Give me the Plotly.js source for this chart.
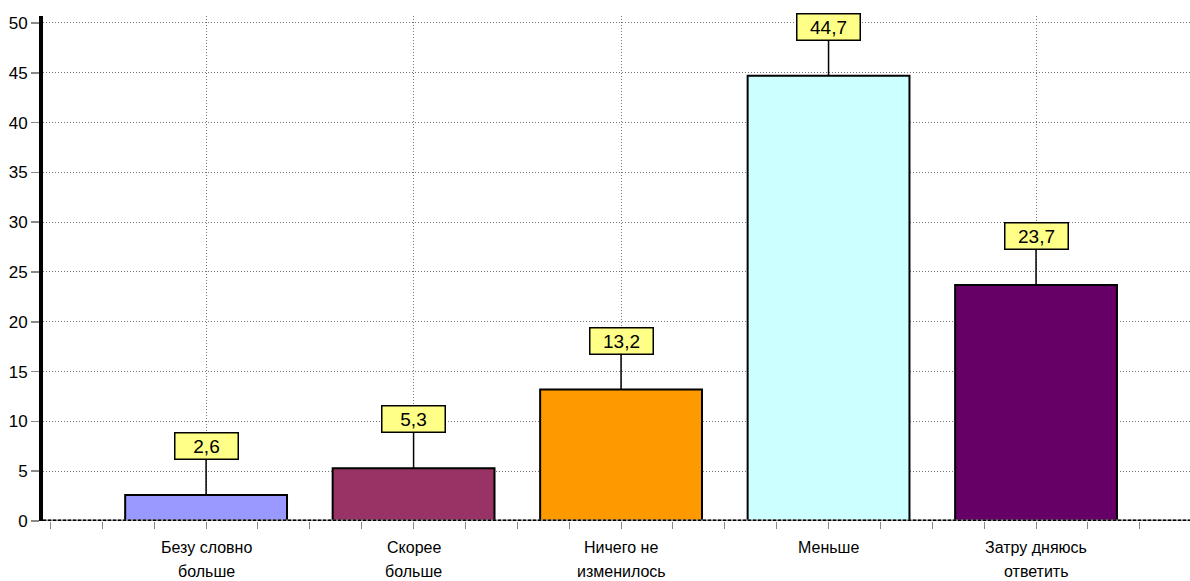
<!DOCTYPE html>
<html>
<head>
<meta charset="utf-8">
<script src="https://cdn.plot.ly/plotly-3.0.1.min.js"></script>
<style>
  html, body { margin: 0; padding: 0; background: #fff; }
  #chart { width: 1190px; height: 581px; }
</style>
</head>
<body>
<div id="chart"></div>
<script>
// Survey answers and their shares, %
const categories = ["Безу словно<br>больше", "Скорее<br>больше", "Ничего не<br>изменилось", "Меньше", "Затру дняюсь<br>ответить"];
const values = [2.6, 5.3, 13.2, 44.7, 23.7];
const valueLabels = ["2,6", "5,3", "13,2", "44,7", "23,7"];
const barColors = ["#9999FF", "#993366", "#FF9900", "#CCFFFF", "#660066"];
const yTicks = [0, 5, 10, 15, 20, 25, 30, 35, 40, 45, 50];

const positions = categories.map((_, i) => i);
const font = "Liberation Sans, Arial, sans-serif";

const trace = {
  type: "bar",
  x: positions,
  y: values,
  width: 0.78,
  marker: { color: barColors, line: { color: "#000", width: 2 } },
  hoverinfo: "skip",
  cliponaxis: false
};

// Yellow value callouts joined to the bar tops
const valueNotes = values.map((v, i) => ({
  x: positions[i], y: v, xref: "x", yref: "y",
  text: valueLabels[i],
  showarrow: true, arrowhead: 0, arrowwidth: 1.5, arrowcolor: "#000",
  ax: 0, ay: -49, standoff: 0,
  bgcolor: "#FFFF88", bordercolor: "#000", borderwidth: 1.5, borderpad: 1,
  width: 60, height: 23,
  font: { family: font, size: 19, color: "#000" }
}));

// Category captions, one annotation per line
const captionNotes = [];
categories.forEach((c, i) => {
  c.split("<br>").forEach((line, k) => {
    captionNotes.push({
      x: positions[i], y: 0, xref: "x", yref: "paper",
      text: line, showarrow: false,
      xanchor: "center", yanchor: "middle",
      borderpad: 0,
      yshift: -26 - 24 * k,
      font: { family: font, size: 16, color: "#000" }
    });
  });
});

const gridDash = "1px,2px";

const layout = {
  width: 1190, height: 581,
  margin: { l: 43, r: 0, t: 16, b: 60 },
  paper_bgcolor: "#fff", plot_bgcolor: "#fff",
  showlegend: false,
  font: { family: font, size: 17, color: "#000" },
  xaxis: {
    range: [-0.786, 4.742],
    tickvals: positions,
    showticklabels: false,
    ticks: "outside", ticklen: 7, tickwidth: 1, tickcolor: "#888",
    showgrid: true, gridcolor: "#777", gridwidth: 1, griddash: gridDash,
    zeroline: false, showline: false,
    minor: { dtick: 0.25, tick0: 0, ticks: "outside", ticklen: 7, tickwidth: 1, tickcolor: "#888", showgrid: false },
    fixedrange: true
  },
  yaxis: {
    range: [0, 50.7],
    tickvals: yTicks,
    ticktext: yTicks.map(String),
    ticks: "outside", ticklen: 8, tickwidth: 1.5, tickcolor: "#888",
    tickfont: { family: font, size: 17, color: "#000" },
    showgrid: true, gridcolor: "#777", gridwidth: 1, griddash: gridDash,
    zeroline: false,
    showline: true, linecolor: "#000", linewidth: 4,
    fixedrange: true
  },
  shapes: [
    { type: "line", xref: "paper", yref: "y", x0: 0, x1: 1, y0: 0, y1: 0,
      line: { color: "#888", width: 3 }, layer: "above" },
    { type: "line", xref: "paper", yref: "y", x0: 0, x1: 1, y0: 0, y1: 0,
      line: { color: "#000", width: 3, dash: "3px,2px" }, layer: "above" }
  ],
  annotations: valueNotes.concat(captionNotes)
};

Plotly.newPlot("chart", [trace], layout, { displayModeBar: false, staticPlot: true });
</script>
</body>
</html>
